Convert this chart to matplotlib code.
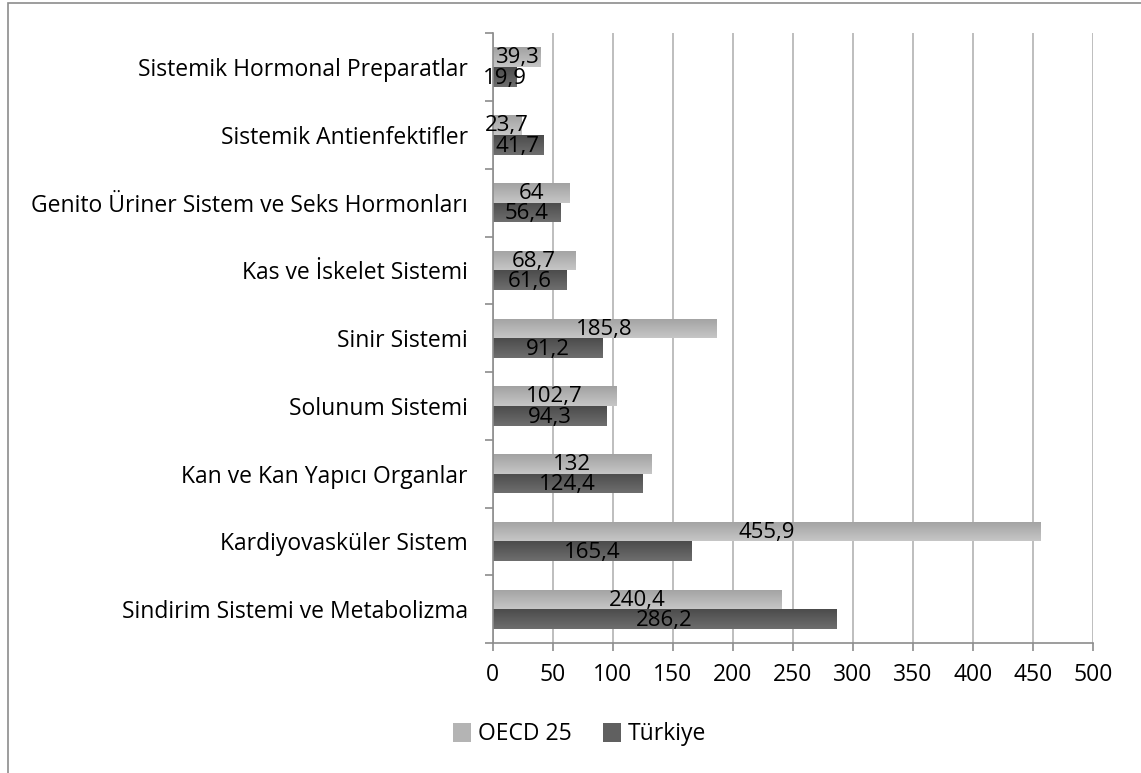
import matplotlib.pyplot as plt
import numpy as np
from matplotlib.patches import Rectangle, Patch

plt.rcParams['font.family'] = ['Open Sans', 'DejaVu Sans']

categories = ['Sindirim Sistemi ve Metabolizma', 'Kardiyovasküler Sistem',
              'Kan ve Kan Yapıcı Organlar', 'Solunum Sistemi', 'Sinir Sistemi',
              'Kas ve İskelet Sistemi', 'Genito Üriner Sistem ve Seks Hormonları',
              'Sistemik Antienfektifler', 'Sistemik Hormonal Preparatlar']
oecd = [240.4, 455.9, 132, 102.7, 185.8, 68.7, 64, 23.7, 39.3]
turkiye = [286.2, 165.4, 124.4, 94.3, 91.2, 61.6, 56.4, 41.7, 19.9]
series_names = ['OECD 25', 'Türkiye']


def fmt(v):
    return ('%g' % v).replace('.', ',')


def gradient_bars(ax, bars, c_top, c_bot):
    grad = np.linspace(0, 1, 50).reshape(-1, 1)
    top = np.array(plt.matplotlib.colors.to_rgb(c_top))
    bot = np.array(plt.matplotlib.colors.to_rgb(c_bot))
    img = top[None, None, :] * (1 - grad[:, :, None]) + bot[None, None, :] * grad[:, :, None]
    for b in bars:
        x, y = b.get_x(), b.get_y()
        w, h = b.get_width(), b.get_height()
        b.set_facecolor('none')
        b.set_edgecolor('none')
        im = ax.imshow(img, extent=[x, x + w, y + h, y], aspect='auto', zorder=2,
                       origin='upper')
        im.set_clip_path(b)


fig = plt.figure(figsize=(11.41, 7.73), dpi=100)
ax = fig.add_axes([0.432, 0.168, 0.526, 0.789])

y = np.arange(len(categories))
h = 0.29
b1 = ax.barh(y + h / 2, oecd, height=h, color='#b0b0b0', zorder=2, label=series_names[0])
b2 = ax.barh(y - h / 2, turkiye, height=h, color='#5f5f5f', zorder=2, label=series_names[1])
gradient_bars(ax, b1, '#c6c6c6', '#a2a2a2')
gradient_bars(ax, b2, '#6e6e6e', '#4c4c4c')

# etiketler çubukların ortasında
for i in range(len(categories)):
    ax.text(oecd[i] / 2, y[i] + h / 2 - 0.01, fmt(oecd[i]), ha='center', va='center',
            fontsize=16, zorder=3)
    ax.text(turkiye[i] / 2, y[i] - h / 2 - 0.02, fmt(turkiye[i]), ha='center', va='center',
            fontsize=16, zorder=3)

ax.set_xlim(0, 500)
ax.set_ylim(-0.5, len(categories) - 0.5)
ax.set_xticks(np.arange(0, 501, 50))
ax.set_yticks(y)
ax.set_yticklabels(categories, fontsize=16.5)
ax.set_yticks(np.arange(-0.5, len(categories), 1), minor=True)
ax.tick_params(axis='y', which='major', length=0, pad=18)
ax.tick_params(axis='y', which='minor', length=6, color='#8c8c8c', width=1.2)
ax.tick_params(axis='x', length=6, color='#8c8c8c', width=1.2, labelsize=16.5, pad=8)
ax.grid(axis='x', color='#b3b3b3', linewidth=1.2, zorder=0)
ax.set_axisbelow(True)
for s in ['top', 'right']:
    ax.spines[s].set_visible(False)
for s in ['left', 'bottom']:
    ax.spines[s].set_color('#8c8c8c')
    ax.spines[s].set_linewidth(1.2)

handles = [Patch(facecolor='#b4b4b4'), Patch(facecolor='#606060')]
fig.legend(handles, series_names, loc='center', bbox_to_anchor=(0.508, 0.05), ncol=2,
           frameon=False, fontsize=16.5, handlelength=0.75, handleheight=0.95,
           handletextpad=0.3, columnspacing=1.4)

fig.patches.append(Rectangle((8 / 1141, -0.1), 2, 1.1 - 3 / 773, transform=fig.transFigure,
                             fill=False, edgecolor='#8c8c8c', linewidth=1.2))

fig.savefig('out.png', dpi=100)
